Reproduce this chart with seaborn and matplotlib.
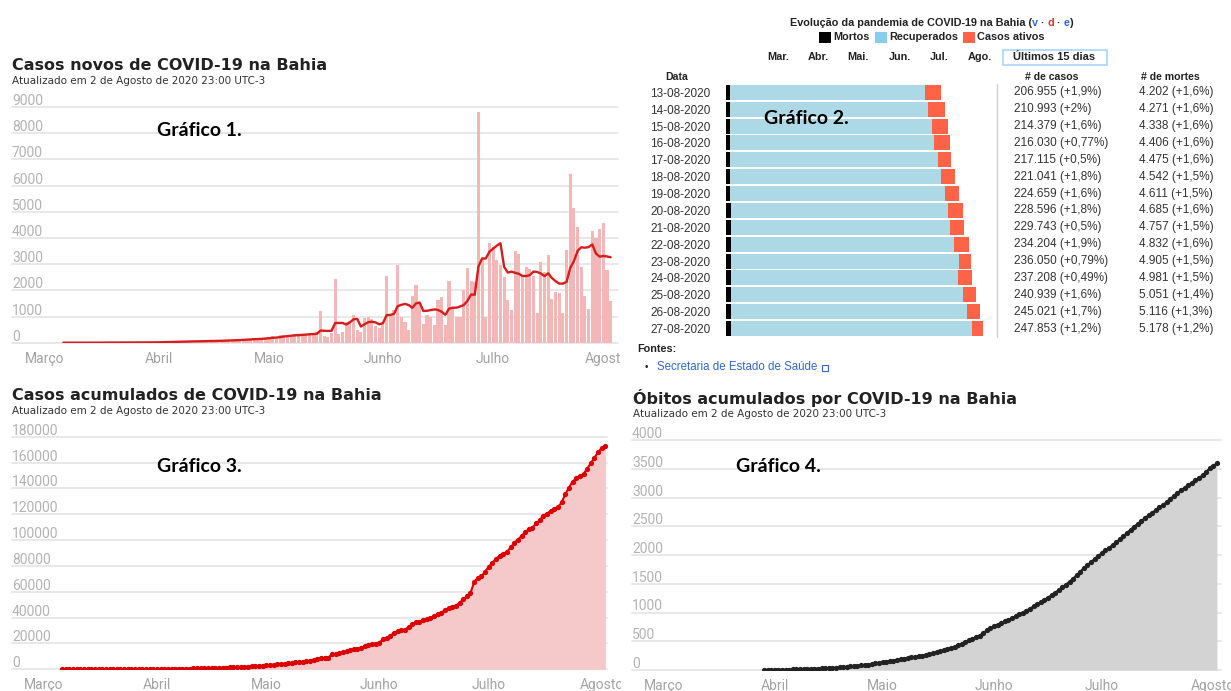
import numpy as np
import pandas as pd
import seaborn as sns
import matplotlib.pyplot as plt
import matplotlib.dates as mdates
from matplotlib.lines import Line2D
from matplotlib.patches import Rectangle
from matplotlib.transforms import (Bbox, TransformedBbox,
                                   blended_transform_factory, offset_copy)

W, H = 1231, 691

# ---------------- dados ----------------
meses = ["Março", "Abril", "Maio", "Junho", "Julho", "Agosto"]
inicio_meses = ["2020-03-01", "2020-04-01", "2020-05-01",
                "2020-06-01", "2020-07-01", "2020-08-01"]

# casos novos por dia (6 de março a 2 de agosto)
inicio_casos = "2020-03-06"
casos_marco = [1, 0, 1, 0, 0, 0, 2, 0, 3, 2, 5, 6, 7, 4, 10, 7, 10, 9, 10,
               13, 11, 10, 8, 14, 9, 21]
casos_abril = [32, 28, 41, 35, 45, 38, 52, 47, 55, 60, 49, 43, 70, 66, 78,
               85, 74, 92, 80, 96, 110, 125, 118, 140, 132, 151, 165, 148,
               172, 190]
casos_maio = [230, 260, 210, 280, 300, 270, 310, 340, 300, 280, 330, 380,
              350, 400, 1200, 250, 230, 380, 2450, 350, 420, 780, 820, 1050,
              500, 400, 950, 980, 900, 640, 560]
casos_junho = [780, 2540, 1020, 1260, 2960, 1000, 800, 500, 1780, 2200, 1500,
               700, 1050, 1000, 670, 1630, 1730, 670, 2350, 1310, 990, 1000,
               2010, 2840, 2370, 2300, 8820, 3180, 990, 3820]
casos_julho = [3660, 3160, 2960, 2520, 1630, 1250, 3500, 3400, 2600, 2900,
               2800, 2550, 1150, 3100, 2700, 3350, 1650, 1950, 1900, 1150,
               3550, 6450, 5150, 4400, 2900, 1800, 1300, 4270, 4010, 4330,
               4560]
casos_agosto = [2790, 1580]

# óbitos novos por dia (29 de março a 2 de agosto)
inicio_obitos = "2020-03-29"
obitos_marco = [1, 1, 1]
obitos_abril = [1, 0, 1, 2, 1, 2, 1, 2, 2, 3, 2, 3, 2, 3, 4, 3, 3, 4, 5, 4,
                5, 6, 5, 6, 7, 8, 7, 9, 10, 12]
obitos_maio = [9, 11, 8, 10, 12, 9, 11, 10, 12, 11, 12, 11, 13, 12, 14, 16,
               18, 20, 19, 22, 21, 23, 27, 28, 30, 28, 30, 27, 42, 45, 48]
obitos_junho = [28, 25, 30, 27, 25, 32, 33, 34, 31, 34, 35, 36, 35, 38, 40,
                42, 41, 44, 45, 48, 47, 50, 55, 58, 62, 65, 52, 50, 55, 53]
obitos_julho = [48, 47, 46, 45, 49, 55, 54, 56, 57, 52, 50, 48, 53, 47, 45,
                44, 46, 43, 50, 52, 55, 53, 45, 44, 46, 42, 45, 40, 42, 60, 62]
obitos_agosto = [45, 43]

# tabela do gráfico 2
datas_tabela = ["13-08-2020", "14-08-2020", "15-08-2020", "16-08-2020",
                "17-08-2020", "18-08-2020", "19-08-2020", "20-08-2020",
                "21-08-2020", "22-08-2020", "23-08-2020", "24-08-2020",
                "25-08-2020", "26-08-2020", "27-08-2020"]
casos_tabela = [206955, 210993, 214379, 216030, 217115, 221041, 224659,
                228596, 229743, 234204, 236050, 237208, 240939, 245021, 247853]
var_casos = ["+1,9%", "+2%", "+1,6%", "+0,77%", "+0,5%", "+1,8%", "+1,6%",
             "+1,8%", "+0,5%", "+1,9%", "+0,79%", "+0,49%", "+1,6%", "+1,7%",
             "+1,2%"]
mortes_tabela = [4202, 4271, 4338, 4406, 4475, 4542, 4611, 4685, 4757, 4832,
                 4905, 4981, 5051, 5116, 5178]
var_mortes = ["+1,6%", "+1,6%", "+1,6%", "+1,6%", "+1,6%", "+1,5%", "+1,5%",
              "+1,6%", "+1,5%", "+1,6%", "+1,5%", "+1,5%", "+1,4%", "+1,3%",
              "+1,2%"]
ativos_tabela = [14700, 16600, 15500, 15100, 12900, 14000, 14000, 14700,
                 13600, 14700, 11800, 13300, 12200, 12500, 11000]

# ---------------- cores ----------------
ROSA_BARRA = "#f4b7b7"
VERMELHO_LINHA = "#d71c1c"
ROSA_AREA = "#f5c9c9"
VERMELHO_PONTO = "#dd0000"
CINZA_AREA = "#d3d3d3"
PRETO_PONTO = "#222222"
GRADE = "#e6e6e6"


def caixa(l, t, r, b):
    return [l / W, 1 - b / H, (r - l) / W, (b - t) / H]


def painel_g1(ax, ymax, passo, px_marco, px_dia, px_esq, px_dir, corte=None):
    m0 = mdates.date2num(pd.Timestamp("2020-03-01"))
    ax.set_xlim(m0 + (px_esq - px_marco) / px_dia,
                m0 + (px_dir - px_marco) / px_dia)
    ax.set_ylim(0, ymax)
    ticks = list(range(0, ymax + 1, passo))
    ax.set_yticks(ticks)
    ax.tick_params(axis="y", left=False, labelleft=False)
    ax.grid(True, axis="y", color=GRADE, linewidth=1.3)
    ax.grid(False, axis="x")
    for gl in ax.get_ygridlines():
        gl.set_clip_on(False)
    ax.set_axisbelow(True)
    trans = offset_copy(blended_transform_factory(ax.transAxes, ax.transData),
                        fig=ax.figure, y=2, units="dots")
    for t in ticks:
        ax.text(0, t, str(t), transform=trans, ha="left", va="baseline",
                fontsize=10, color="#b3b3b3", family="Roboto")
    ax.set_xticks(mdates.date2num(pd.to_datetime(inicio_meses)))
    ax.set_xticklabels(meses, family="Roboto")
    ax.tick_params(axis="x", length=4, width=1, color="#b5b5b5",
                   labelsize=10, labelcolor="#a3a3a3", pad=2.5)
    for sp in ax.spines.values():
        sp.set_visible(False)
    ax.set_xlabel("")
    ax.set_ylabel("")
    if corte:
        clip = TransformedBbox(Bbox([[0, 0], [corte / W, 1]]),
                               ax.figure.transFigure)
        for lab in ax.get_xticklabels():
            lab.set_clip_box(clip)
            lab.set_clip_on(True)


def titulo_g1(fig, x, y, titulo):
    fig.text(x / W, 1 - y / H, titulo, fontsize=11.5, fontweight="bold",
             color="#222222", va="center", ha="left")
    fig.text(x / W, 1 - (y + 16.5) / H,
             "Atualizado em 2 de Agosto de 2020 23:00 UTC-3",
             fontsize=7.5, color="#333333", va="center", ha="left")


def rotulo_grafico(fig, x, y, texto):
    fig.text(x / W, 1 - y / H, texto, fontsize=14, fontweight="bold",
             family="Lato", color="black", va="center", ha="left")


sns.set_style("white")
plt.rcParams["font.family"] = ["DejaVu Sans"]

fig = plt.figure(figsize=(W / 100, H / 100), dpi=100)

# ---------------- gráfico 1: casos novos ----------------
novos = casos_marco + casos_abril + casos_maio + casos_junho + casos_julho + casos_agosto
dias = pd.date_range(inicio_casos, periods=len(novos))
df1 = pd.DataFrame({"x": mdates.date2num(dias), "casos": novos})
df1["media"] = df1["casos"].rolling(7, min_periods=1).mean()
df1["acum"] = df1["casos"].cumsum()

ax1 = fig.add_axes(caixa(12, 107, 618, 342.7))
sns.barplot(data=df1, x="x", y="casos", native_scale=True, color=ROSA_BARRA,
            width=0.85, saturation=1, errorbar=None, linewidth=0, ax=ax1)
sns.lineplot(data=df1, x="x", y="media", color=VERMELHO_LINHA,
             linewidth=1.7, ax=ax1)
painel_g1(ax1, 9000, 1000, 45, 3.673, 12, 618, corte=621)
titulo_g1(fig, 12, 65, "Casos novos de COVID-19 na Bahia")
rotulo_grafico(fig, 157, 130.5, "Gráfico 1.")

# ---------------- gráfico 3: casos acumulados ----------------
ax3 = fig.add_axes(caixa(12, 436.7, 607, 669.3))
ax3.fill_between(df1["x"], df1["acum"], color=ROSA_AREA, linewidth=0)
sns.lineplot(data=df1, x="x", y="acum", color=VERMELHO_PONTO, linewidth=1.5,
             marker="o", markersize=3.8, markeredgewidth=0, ax=ax3)
painel_g1(ax3, 180000, 20000, 43.9, 3.646, 12, 607, corte=621)
titulo_g1(fig, 12, 395, "Casos acumulados de COVID-19 na Bahia")
rotulo_grafico(fig, 157, 467, "Gráfico 3.")

# ---------------- gráfico 4: óbitos acumulados ----------------
obitos = obitos_marco + obitos_abril + obitos_maio + obitos_junho + obitos_julho + obitos_agosto
dias_ob = pd.date_range(inicio_obitos, periods=len(obitos))
df4 = pd.DataFrame({"x": mdates.date2num(dias_ob), "obitos": obitos})
df4["acum"] = df4["obitos"].cumsum()

ax4 = fig.add_axes(caixa(632, 440, 1221, 670))
ax4.fill_between(df4["x"], df4["acum"], color=CINZA_AREA, linewidth=0)
sns.lineplot(data=df4, x="x", y="acum", color=PRETO_PONTO, linewidth=1.5,
             marker="o", markersize=3.8, markeredgewidth=0, ax=ax4)
painel_g1(ax4, 4000, 500, 663.4, 3.594, 632, 1221)
titulo_g1(fig, 633, 398, "Óbitos acumulados por COVID-19 na Bahia")
rotulo_grafico(fig, 736, 467, "Gráfico 4.")

# ---------------- gráfico 2: tabela da Wikipédia ----------------
FONTE = ["Liberation Sans", "DejaVu Sans"]
df2 = pd.DataFrame({"data": datas_tabela, "casos": casos_tabela,
                    "mortes": mortes_tabela, "ativos": ativos_tabela})
df2["sem_ativos"] = df2["casos"] - df2["ativos"]

ax2 = fig.add_axes(caixa(725.7, 83.86, 997.4, 337.0))
sns.barplot(data=df2, y="data", x="casos", orient="h", color="#ff6347",
            width=0.89, saturation=1, errorbar=None, linewidth=0, ax=ax2)
sns.barplot(data=df2, y="data", x="sem_ativos", orient="h", color="#add8e6",
            width=0.89, saturation=1, errorbar=None, linewidth=0, ax=ax2)
sns.barplot(data=df2, y="data", x="mortes", orient="h", color="black",
            width=0.89, saturation=1, errorbar=None, linewidth=0, ax=ax2)
ax2.set_xlim(0, (997.4 - 725.7) / 0.001039)
ax2.set_ylim(len(df2) - 0.5, -0.5)
for sp in ax2.spines.values():
    sp.set_visible(False)
ax2.set_xticks([])
ax2.set_xlabel("")
ax2.set_ylabel("")
ax2.tick_params(axis="y", length=0, pad=11, labelsize=8.5, labelcolor="#333333")
for lab in ax2.get_yticklabels():
    lab.set_family(FONTE)

tr_linha = blended_transform_factory(fig.transFigure, ax2.transData)
for i, row in df2.iterrows():
    txt_c = "{} ({})".format(f"{row['casos']:,}".replace(",", "."), var_casos[i])
    txt_m = "{} ({})".format(f"{row['mortes']:,}".replace(",", "."), var_mortes[i])
    ax2.text(1014 / W, i, txt_c, transform=tr_linha, va="center", ha="left",
             fontsize=8.5, color="#333333", family=FONTE)
    ax2.text(1139 / W, i, txt_m, transform=tr_linha, va="center", ha="left",
             fontsize=8.5, color="#333333", family=FONTE)

fig.add_artist(Line2D([997.4 / W] * 2, [1 - 84 / H, 1 - 337 / H],
                      color="#cfcfcf", linewidth=1))

# cabeçalhos
for x, s in [(677, "Data"), (1052, "# de casos"), (1170, "# de mortes")]:
    fig.text(x / W, 1 - 76.7 / H, s, ha="center", va="center", fontsize=7.6,
             fontweight="bold", color="#222222", family=FONTE)

# título com links v · d · e
t = fig.text(1032 / W, 1 - 22.7 / H, "Evolução da pandemia de COVID-19 na Bahia (",
             ha="right", va="center", fontsize=7.8, fontweight="bold",
             color="#222222", family=FONTE)
for s, c in [("v", "#3366cc"), (" · ", "#222222"), ("d", "#dd3333"),
             (" · ", "#222222"), ("e", "#3366cc"), (")", "#222222")]:
    t = ax2.annotate(s, xy=(1, 0), xycoords=t, va="bottom", ha="left",
                     fontsize=7.8, fontweight="bold", color=c, family=FONTE,
                     annotation_clip=False)

# legenda
for x0, cor, x_txt, s in [(818.7, "black", 833, "Mortos"),
                          (875, "#87ceeb", 889, "Recuperados"),
                          (963, "#ff6347", 977, "Casos ativos")]:
    fig.add_artist(Rectangle((x0 / W, 1 - 42.6 / H), 12.3 / W, 10.7 / H,
                             facecolor=cor, edgecolor="none",
                             transform=fig.transFigure))
    fig.text(x_txt / W, 1 - 37.3 / H, s, ha="left", va="center", fontsize=7.8,
             fontweight="bold", color="#222222", family=FONTE)

# botões de meses
for x, s in [(778, "Mar."), (818.5, "Abr."), (858, "Mai."), (899.5, "Jun."),
             (939.5, "Jul."), (979.5, "Ago.")]:
    fig.text(x / W, 1 - 57.3 / H, s, ha="center", va="center", fontsize=7.8,
             fontweight="bold", color="#222222", family=FONTE)
fig.add_artist(Rectangle((1003 / W, 1 - 64.5 / H), 103.5 / W, 14.5 / H,
                         facecolor="white", edgecolor="#a7d7f9", linewidth=1.2,
                         transform=fig.transFigure))
fig.text(1054 / W, 1 - 57.3 / H, "Últimos 15 dias", ha="center", va="center",
         fontsize=8, fontweight="bold", color="#222222", family=FONTE)

# fontes
fig.text(637 / W, 1 - 349 / H, "Fontes:", ha="left", va="center", fontsize=7.8,
         fontweight="bold", color="#222222", family=FONTE)
fig.text(645 / W, 1 - 367 / H, "•", ha="left", va="center", fontsize=7,
         color="#222222", family=FONTE)
fig.text(657 / W, 1 - 367 / H, "Secretaria de Estado de Saúde", ha="left",
         va="center", fontsize=8.3, color="#3366cc", family=FONTE)
fig.add_artist(Rectangle((822 / W, 1 - 371 / H), 6 / W, 6 / H,
                         facecolor="none", edgecolor="#3366cc", linewidth=0.8,
                         transform=fig.transFigure))

rotulo_grafico(fig, 764, 118.5, "Gráfico 2.")

fig.savefig("out.png", dpi=100)
